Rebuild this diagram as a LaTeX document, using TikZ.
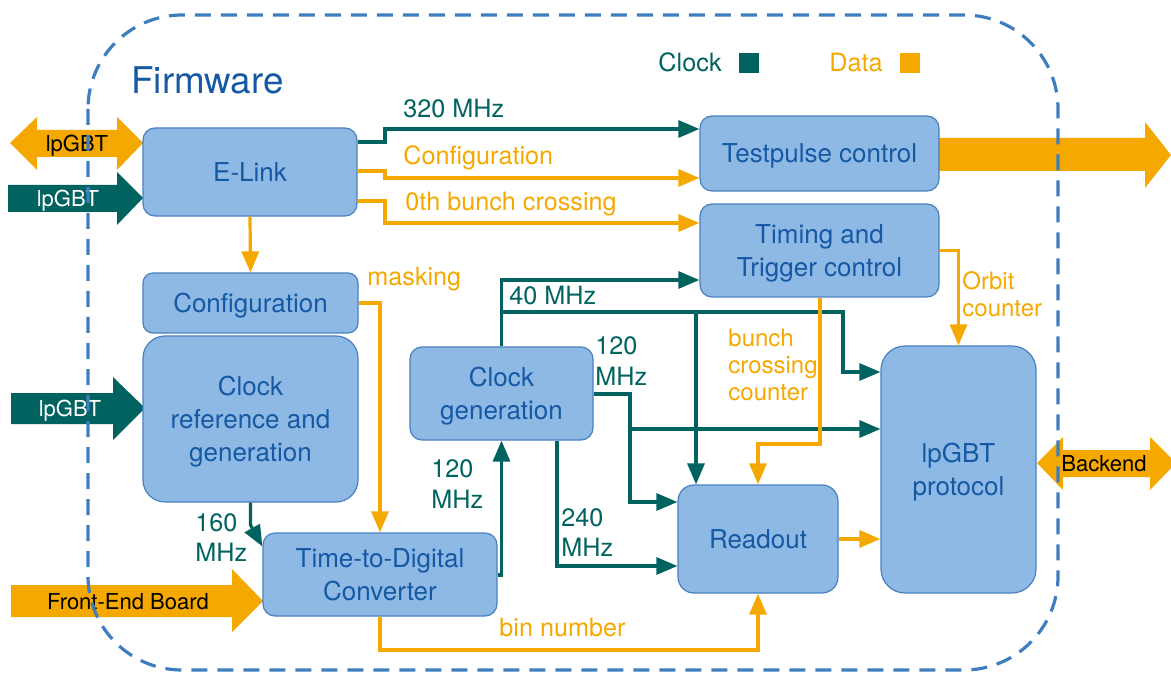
\documentclass[tikz,border=0pt]{standalone}
\usepackage{fontspec}
\setmainfont{TeX Gyre Heros}
\usetikzlibrary{arrows.meta}

\definecolor{clkcol}{RGB}{0,99,96}
\definecolor{datcol}{RGB}{245,168,0}
\definecolor{boxfill}{RGB}{142,185,228}
\definecolor{boxline}{RGB}{74,128,192}
\definecolor{boxtext}{RGB}{21,89,165}
\definecolor{bndcol}{RGB}{63,126,190}

\tikzset{
  blk/.style={draw=boxline, fill=boxfill, line width=0.6pt, rounded corners=6pt,
    text=boxtext, align=center, inner sep=0pt, text depth=0pt,
    font={\fontsize{13}{16.5}\selectfont}},
  clk/.style={draw=clkcol, line width=1.6pt, -{Triangle[length=10.5pt,width=8.5pt]}},
  dat/.style={draw=datcol, line width=1.6pt, -{Triangle[length=10.5pt,width=8.5pt]}},
  clklbl/.style={text=clkcol, anchor=west, inner sep=0pt, align=left, text depth=0pt,
    font={\fontsize{12.6}{15.5}\selectfont}},
  datlbl/.style={text=datcol, anchor=west, inner sep=0pt, align=left, text depth=0pt,
    font={\fontsize{12.6}{15.5}\selectfont}},
  pipelbl/.style={inner sep=0pt, text depth=0pt, font={\fontsize{11}{13}\selectfont}},
  bnd/.style={draw=bndcol, line width=1.6pt, dash pattern=on 8pt off 5pt, rounded corners=47pt},
}

\begin{document}
\begin{tikzpicture}[x=0.5pt,y=-0.5pt]
    \useasboundingbox (0,0) rectangle (1171,673);

    % big in/out arrows
    \fill[datcol] (10,143) -- (37,117) -- (37,130) -- (117,130) -- (117,117) -- (143,143)
      -- (117,170) -- (117,157) -- (37,157) -- (37,170) -- cycle;
    \node[pipelbl, text=black] (inlp1) at (77,143) {lpGBT};
    \fill[clkcol] (8,185) -- (117,185) -- (117,172) -- (143,198) -- (117,225) -- (117,212) -- (8,212) -- cycle;
    \node[pipelbl, text=white] (inlp2) at (68,198) {lpGBT};
    \fill[clkcol] (11,393) -- (113,393) -- (113,377) -- (145,408) -- (113,440) -- (113,424) -- (11,424) -- cycle;
    \node[pipelbl, text=white] (inlp3) at (70,408) {lpGBT};
    \fill[datcol] (11,585) -- (232,585) -- (232,569) -- (263,601) -- (232,632) -- (232,617) -- (11,617) -- cycle;
    \node[pipelbl, text=black] (infeb) at (128,601) {Front-End Board};
    \fill[datcol] (939,138) -- (1145,138) -- (1145,122) -- (1171,155) -- (1145,188) -- (1145,171) -- (939,171) -- cycle;
    \fill[datcol] (1037,463) -- (1063,437) -- (1063,450) -- (1150,450) -- (1150,437) -- (1176,463)
      -- (1150,490) -- (1150,477) -- (1063,477) -- (1063,490) -- cycle;
    \node[pipelbl, text=black] (outbe) at (1104,463) {Backend};

    % firmware boundary
    \draw[bnd] (88,15) rectangle (1058,670);
    \node[text=boxtext, anchor=west, inner sep=0pt, font={\fontsize{18.4}{20}\selectfont}] (fw) at (131,80) {Firmware};

    % legend
    \node[clklbl, anchor=east] (legclk) at (722,62) {Clock};
    \node[fill=clkcol, minimum size=10pt, inner sep=0pt] (sqclk) at (749,63) {};
    \node[datlbl, anchor=east] (legdat) at (883,62) {Data};
    \node[fill=datcol, minimum size=10pt, inner sep=0pt] (sqdat) at (910,63) {};

    % blocks
    \node[blk, minimum width=107pt, minimum height=44pt] (elink) at (250,172) {E-Link};
    \node[blk, minimum width=107.5pt, minimum height=30pt, rounded corners=5pt] (conf) at (250.5,303) {Configuration};
    \node[blk, minimum width=107.5pt, minimum height=83pt, rounded corners=11pt] (clkref) at (250.5,419) {Clock\\reference and\\generation};
    \node[blk, minimum width=117pt, minimum height=41.5pt] (tdc) at (380,574.5) {Time-to-Digital\\Converter};
    \node[blk, minimum width=91.5pt, minimum height=46.5pt] (clkgen) at (501.5,393.5) {Clock\\generation};
    \node[blk, minimum width=80pt, minimum height=54pt, rounded corners=8pt] (readout) at (758,539) {Readout};
    \node[blk, minimum width=77.5pt, minimum height=123.5pt, rounded corners=12pt] (lpgbt) at (958.5,469.5) {lpGBT\\protocol};
    \node[blk, minimum width=119.5pt, minimum height=37.5pt] (tp) at (819.5,153.5) {Testpulse control};
    \node[blk, minimum width=119.5pt, minimum height=46.5pt] (ttc) at (819.5,250.5) {Timing and\\Trigger control};

    % clock lines
    \draw[clk] (elink.east |- 0,142) -| (385,129) -- (tp.west |- 0,129);
    \draw[clk] (clkref.south) -- (250.5,525) -- ([yshift=-7pt]tdc.north west);
    \draw[clk] (tdc.east |- 0,575) -| (clkgen.south);
    \draw[clk] (clkgen.north) |- (ttc.west |- 0,280);
    \draw[clk] (clkgen.north |- 0,312) -| (843,372) -- (lpgbt.west |- 0,372);
    \draw[clk] (696,312) -- (readout.north -| 696,0);
    \draw[clk] (clkgen.east |- 0,394) -| (630,502) -- (readout.west |- 0,502);
    \draw[clk] (630,429) -- (lpgbt.west |- 0,429);
    \draw[clk] (clkgen.south -| 557,0) |- (readout.west |- 0,566);

    % data lines
    \draw[dat] (elink.east |- 0,171) -| (385,178) -- (tp.west |- 0,178);
    \draw[dat] (elink.east |- 0,201) -| (385,223) -- (ttc.west |- 0,223);
    \draw[dat] (elink.south) -- (conf.north);
    \draw[dat] (conf.east) -| (tdc.north);
    \draw[dat] (ttc.south -| 820,0) |- (758,444) -- (readout.north);
    \draw[dat] (ttc.east) -| (lpgbt.north);
    \draw[dat] (readout.east) -- (lpgbt.west |- readout.east);
    \draw[dat] (tdc.south) |- (758,650) -- (readout.south);

    % line labels
    \node[clklbl] (l320) at (403,108) {320 MHz};
    \node[datlbl] (lconf) at (403,155) {Configuration};
    \node[datlbl] (lbx0) at (405,201) {0th bunch crossing};
    \node[datlbl] (lmask) at (367,276) {masking};
    \node[clklbl] (l40) at (509,295) {40 MHz};
    \node[clklbl] (l120a) at (595,361) {120\\MHz};
    \node[datlbl, font={\fontsize{12}{13.5}\selectfont}] (lbxc) at (728,365) {bunch\\crossing\\counter};
    \node[datlbl, font={\fontsize{12}{13.5}\selectfont}] (lorb) at (962,294) {Orbit\\counter};
    \node[clklbl, font={\fontsize{12.6}{15}\selectfont}] (l160) at (195,538) {160\\MHz};
    \node[clklbl] (l120b) at (431,484) {120\\MHz};
    \node[clklbl, font={\fontsize{12.6}{15}\selectfont}] (l240) at (561,533) {240\\MHz};
    \node[datlbl] (lbin) at (499,627) {bin number};
\end{tikzpicture}
\end{document}
